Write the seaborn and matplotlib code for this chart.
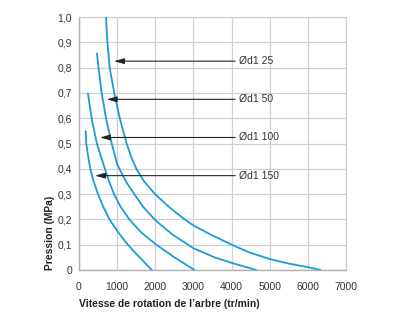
import matplotlib
matplotlib.use("Agg")
import matplotlib.pyplot as plt
import seaborn as sns
import pandas as pd

# --- data ---
labels = ["Ød1 25", "Ød1 50", "Ød1 100", "Ød1 150"]
x_d25 = [709, 745, 805, 925, 1070, 1250, 1361, 1505, 1708, 1994, 2351, 2768, 3000,
         3450, 4000, 4450, 5000, 5500, 6000, 6325]
y_d25 = [1.0, 0.9, 0.8, 0.7, 0.6, 0.5, 0.45, 0.4, 0.35, 0.3, 0.25, 0.2, 0.176,
         0.14, 0.1, 0.07, 0.043, 0.025, 0.011, 0.0]
x_d50 = [472, 512, 595, 709, 857, 1000, 1060, 1230, 1450, 1680, 2000, 2450, 3000,
         3550, 4000, 4640]
y_d50 = [0.856, 0.8, 0.7, 0.6, 0.5, 0.42, 0.4, 0.35, 0.3, 0.25, 0.197, 0.14, 0.086,
         0.05, 0.028, 0.0]
x_d100 = [236, 332, 470, 680, 790, 920, 1090, 1320, 1620, 2000, 2500, 3026]
y_d100 = [0.698, 0.6, 0.5, 0.4, 0.35, 0.3, 0.25, 0.2, 0.15, 0.103, 0.05, 0.0]
x_d150 = [176, 192, 240, 297, 385, 500, 635, 800, 1000, 1200, 1400, 1650, 1908]
y_d150 = [0.549, 0.5, 0.45, 0.4, 0.35, 0.3, 0.25, 0.2, 0.155, 0.115, 0.08, 0.04, 0.0]

arrow_y = [0.826, 0.675, 0.524, 0.373]
arrow_tip_x = [919, 727, 551, 420]
arrow_tail_x = 4094
label_x = 4207

xticks = [0, 1000, 2000, 3000, 4000, 5000, 6000, 7000]
yticks = [0, 0.1, 0.2, 0.3, 0.4, 0.5, 0.6, 0.7, 0.8, 0.9, 1.0]
ytick_labels = ["0", "0,1", "0,2", "0,3", "0,4", "0,5", "0,6", "0,7", "0,8", "0,9", "1,0"]

frames = []
for lab, xs, ys in zip(labels, [x_d25, x_d50, x_d100, x_d150], [y_d25, y_d50, y_d100, y_d150]):
    frames.append(pd.DataFrame({"x": xs, "y": ys, "curve": lab}))
df = pd.concat(frames, ignore_index=True)

sns.set_theme(style="white")
plt.rcParams["font.family"] = ["Liberation Sans", "DejaVu Sans"]

fig = plt.figure(figsize=(4.2, 3.3), dpi=100)
ax = fig.add_axes([0.188, 0.182, 0.636, 0.766])

blue = "#1b9bd7"
sns.lineplot(data=df, x="x", y="y", hue="curve", palette=[blue] * 4,
             sort=False, estimator=None, legend=False, lw=1.3, ax=ax, zorder=3)

for yv, tip, lab in zip(arrow_y, arrow_tip_x, labels):
    ax.annotate("", xy=(tip, yv), xytext=(arrow_tail_x, yv),
                arrowprops=dict(arrowstyle="-|>,head_length=0.5,head_width=0.14",
                                color="#222222", lw=0.8, shrinkA=0, shrinkB=0),
                zorder=4)
    ax.text(label_x, yv, lab, fontsize=7.5, color="#333333", va="center", ha="left", zorder=5)

ax.set_xlim(0, 7000)
ax.set_ylim(0, 1.0)
ax.set_xticks(xticks)
ax.set_xticklabels([str(t) for t in xticks])
ax.set_yticks(yticks)
ax.set_yticklabels(ytick_labels)
ax.grid(True, color="#d0d0d0", lw=0.9)
ax.set_axisbelow(True)
for side in ["top", "right"]:
    ax.spines[side].set_visible(True)
    ax.spines[side].set_color("#d0d0d0")
    ax.spines[side].set_linewidth(0.9)
for side in ["left", "bottom"]:
    ax.spines[side].set_color("#b0b0b0")
    ax.spines[side].set_linewidth(1.0)
ax.tick_params(axis="both", length=0, labelsize=7.5, colors="#333333")
ax.tick_params(axis="x", pad=9)
ax.tick_params(axis="y", pad=5)
ax.set_xlabel("Vitesse de rotation de l’arbre (tr/min)", fontsize=7.4, fontweight="bold",
              color="#222222", labelpad=5, loc="left")
ax.set_ylabel("Pression (MPa)", fontsize=7.4, fontweight="bold", color="#222222",
              labelpad=2, loc="bottom")

fig.savefig("out.png", dpi=100)
